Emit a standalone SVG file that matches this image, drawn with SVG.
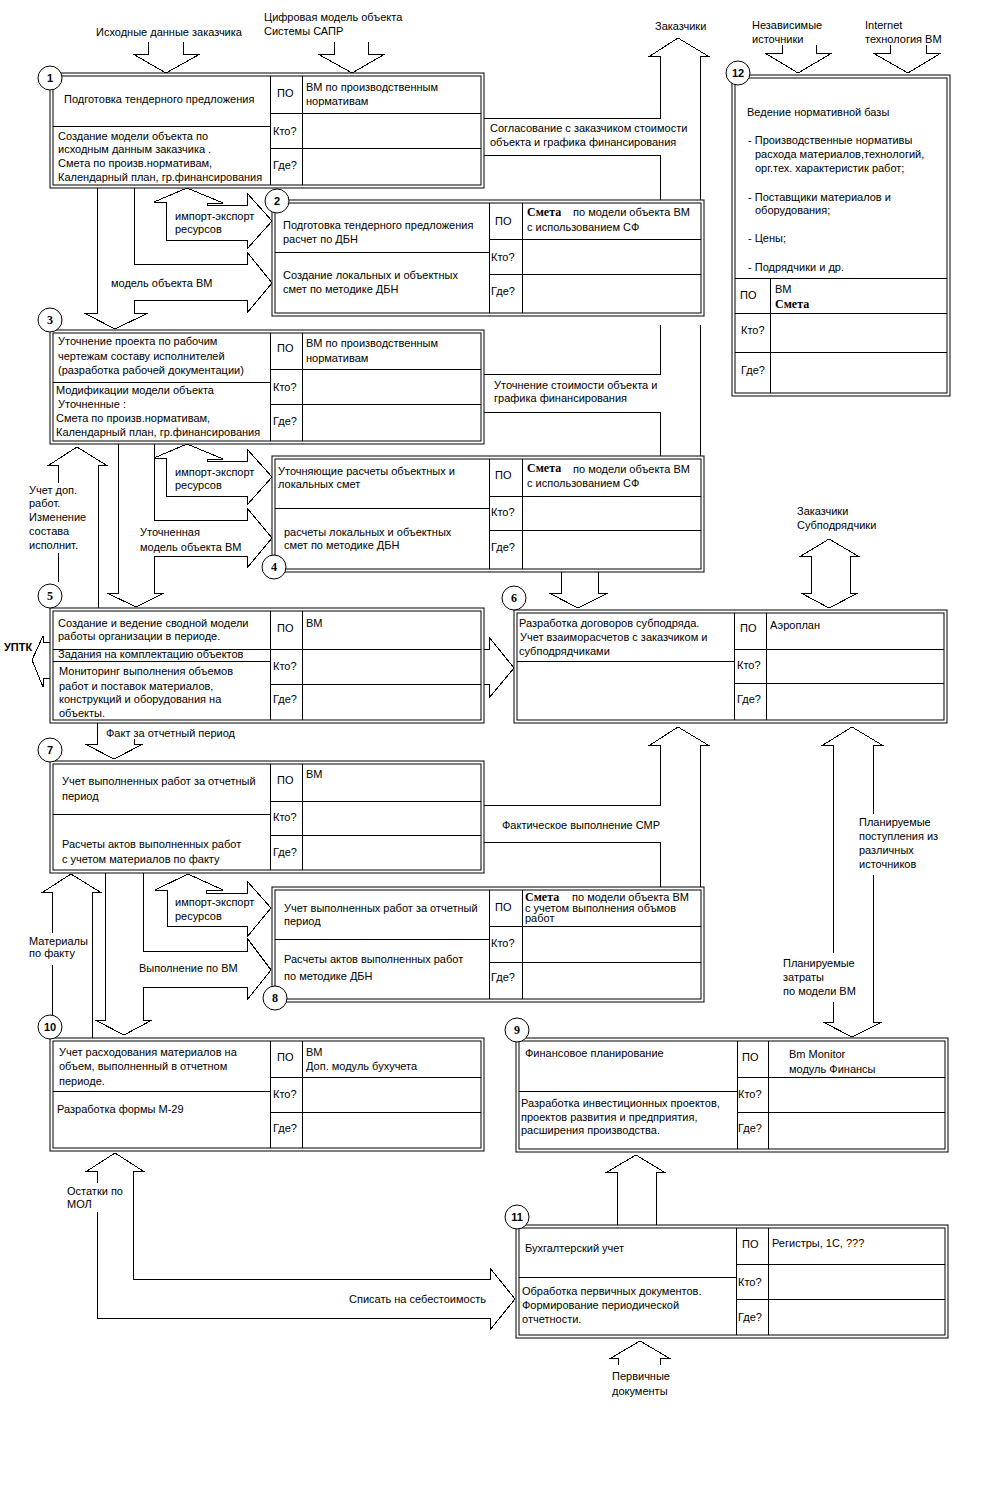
<svg xmlns="http://www.w3.org/2000/svg" width="1000" height="1500" viewBox="0 0 1000 1500">
<style>
.b{fill:none;stroke:#000;stroke-width:1}
.o{fill:#fff;stroke:#000;stroke-width:1}
.c{fill:#fff;stroke:#000;stroke-width:1}
text{font-family:"Liberation Sans",Arial,sans-serif;font-size:11px;fill:#000}
.s{font-family:"Liberation Serif","Times New Roman",serif;font-weight:bold;font-size:12px}
.n{font-weight:bold;font-size:11px;text-anchor:middle}
.nf{font-family:"Liberation Serif","Times New Roman",serif;font-weight:bold;font-size:12px;text-anchor:middle}
.u{font-weight:bold;font-size:11px}
</style>
<rect x="0" y="0" width="1000" height="1500" fill="#fff"/>
<g id="connectors" class="b" shape-rendering="crispEdges">
<path d="M148,42V54H133L166,73L200,54H183V42"/>
<path d="M334,42V54H318L352,73L385,54H368V42"/>
<path d="M484,118H660V56H650L678,38L708,56H700V200M484,155H660V200"/>
<path d="M660,325V374H484M484,412H660V456M700,325V456"/>
<path d="M166,240V202H154L187,188L223,203H207V205H247V193L272,221L247,249V240Z"/>
<path d="M134,188V264H247V252L272,283L247,313V300H134V313H148L115,329L84,313H97V188"/>
<path d="M166,496V458H154L187,444L223,459H207V461H247V449L272,477L247,505V496Z"/>
<path d="M154,444V520H247V508L272,538L247,568V556H154V593H164L136,607L107,593H118V444"/>
<path d="M58,483V465H49L77,447L106,465H98V608M58,553V582"/>
<path d="M561,572V593H549L578,608L608,593H598V572"/>
<path d="M811,593V556H801L829,539L858,556H850V593H858L829,608L801,593Z"/>
<path d="M50,642H43V636L32,660L43,687V678H50"/>
<path d="M484,649H489V637L514,668L489,698V684H484"/>
<path d="M97,723V744H85L114,759L143,744H134V739"/>
<path d="M484,805H660V745H650L678,727L708,745H700V887M484,842H660V887"/>
<path d="M833,953V745H823L852,727L882,745H873V814M873,875V1022H882L852,1037L823,1022H833V1002"/>
<path d="M167,926V890H155L188,874L223,890H206V893H247V881L271,908L247,937V926Z"/>
<path d="M143,873V951H247V938L271,970L247,1000V987H143V1020H152L124,1035L95,1020H105V873"/>
<path d="M52,933V892H43L71,874L100,892H92V1038M52,965V1015"/>
<path d="M133,1171V1279H490V1268L515,1299L490,1330V1318H97V1212M97,1183V1171H87L115,1153L143,1171H133"/>
<path d="M617,1225V1172H607L636,1155L664,1172H656V1225"/>
<path d="M618,1365V1358H611L640,1341L669,1358H660V1365"/>
<path d="M782,45V53H765L798,73L832,53H816V45"/>
<path d="M890,45V53H873L908,73L941,53H926V45"/>
</g>
<g id="labels">
<text x="96" y="36">Исходные данные заказчика</text>
<text x="264" y="21">Цифровая модель объекта</text>
<text x="264" y="35">Системы САПР</text>
<text x="655" y="30">Заказчики</text>
<text x="752" y="29">Независимые</text>
<text x="752" y="43">источники</text>
<text x="865" y="29">Internet</text>
<text x="865" y="43">технология ВМ</text>
<text x="490" y="132">Согласование с заказчиком стоимости</text>
<text x="490" y="146">объекта и графика финансирования</text>
<text x="175" y="220">импорт-экспорт</text>
<text x="175" y="233">ресурсов</text>
<text x="111" y="287">модель объекта ВМ</text>
<text x="494" y="389">Уточнение стоимости объекта и</text>
<text x="494" y="402">графика финансирования</text>
<text x="175" y="476">импорт-экспорт</text>
<text x="175" y="489">ресурсов</text>
<text x="140" y="536">Уточненная</text>
<text x="140" y="551">модель объекта ВМ</text>
<text x="29" y="494">Учет доп.</text>
<text x="29" y="507">работ.</text>
<text x="29" y="521">Изменение</text>
<text x="29" y="535">состава</text>
<text x="29" y="549">исполнит.</text>
<text x="797" y="515">Заказчики</text>
<text x="797" y="529">Субподрядчики</text>
<text class="u" x="4" y="651">УПТК</text>
<text x="106" y="737">Факт за отчетный период</text>
<text x="502" y="829">Фактическое выполнение СМР</text>
<text x="175" y="906">импорт-экспорт</text>
<text x="175" y="920">ресурсов</text>
<text x="139" y="972">Выполнение по ВМ</text>
<text x="29" y="945">Материалы</text>
<text x="29" y="957">по факту</text>
<text x="859" y="826">Планируемые</text>
<text x="859" y="840">поступления из</text>
<text x="859" y="854">различных</text>
<text x="859" y="868">источников</text>
<text x="783" y="967">Планируемые</text>
<text x="783" y="981">затраты</text>
<text x="783" y="995">по модели ВМ</text>
<text x="67" y="1195">Остатки по</text>
<text x="67" y="1208">МОЛ</text>
<text x="349" y="1303">Списать на себестоимость</text>
<text x="612" y="1380">Первичные</text>
<text x="612" y="1395">документы</text>
</g>
<g id="node1">
<rect class="o" x="50" y="73" width="434" height="115"/>
<rect class="b" x="53" y="76" width="428" height="109"/>
<path class="b" shape-rendering="crispEdges" d="M270,76V185M302,76V185M53,126H270M270,113H481M270,148H481"/>
<circle class="c" cx="50" cy="78" r="12"/>
<text class="n" x="50" y="82">1</text>
<text x="64" y="103">Подготовка тендерного предложения</text>
<text x="277" y="97">ПО</text>
<text x="306" y="91">ВМ по производственным</text>
<text x="306" y="105">нормативам</text>
<text x="58" y="140">Создание модели объекта по</text>
<text x="58" y="153">исходным данным заказчика .</text>
<text x="58" y="167">Смета по произв.нормативам,</text>
<text x="58" y="181">Календарный план, гр.финансирования</text>
<text x="273" y="135">Кто?</text>
<text x="273" y="169">Где?</text>
</g>
<g id="node2">
<rect class="o" x="272" y="200" width="432" height="116"/>
<rect class="b" x="275" y="203" width="426" height="110"/>
<path class="b" shape-rendering="crispEdges" d="M489,203V313M522,203V313M275,252H489M489,239H701M489,274H701"/>
<circle class="c" cx="277" cy="201" r="12"/>
<text class="n" x="277" y="205">2</text>
<text x="283" y="229">Подготовка тендерного предложения</text>
<text x="283" y="243">расчет по ДБН</text>
<text x="283" y="279">Создание локальных и объектных</text>
<text x="283" y="293">смет по методике ДБН</text>
<text x="495" y="225">ПО</text>
<text class="s" x="527" y="216">Смета</text>
<text x="573" y="216">по модели объекта ВМ</text>
<text x="527" y="231">с использованием СФ</text>
<text x="491" y="261">Кто?</text>
<text x="491" y="295">Где?</text>
</g>
<g id="node3">
<rect class="o" x="50" y="330" width="434" height="114"/>
<rect class="b" x="53" y="333" width="428" height="108"/>
<path class="b" shape-rendering="crispEdges" d="M270,333V441M302,333V441M53,382H270M270,369H481M270,404H481"/>
<circle class="c" cx="50" cy="320" r="12"/>
<text class="nf" x="50" y="324">3</text>
<text x="58" y="345">Уточнение проекта по рабочим</text>
<text x="58" y="360">чертежам составу исполнителей</text>
<text x="58" y="374">(разработка рабочей документации)</text>
<text x="56" y="394">Модификации модели объекта</text>
<text x="58" y="408">Уточненные :</text>
<text x="56" y="422">Смета по произв.нормативам,</text>
<text x="56" y="436">Календарный план, гр.финансирования</text>
<text x="277" y="352">ПО</text>
<text x="306" y="347">ВМ по производственным</text>
<text x="306" y="362">нормативам</text>
<text x="273" y="391">Кто?</text>
<text x="273" y="425">Где?</text>
</g>
<g id="node4">
<rect class="o" x="272" y="456" width="432" height="116"/>
<rect class="b" x="275" y="459" width="426" height="110"/>
<path class="b" shape-rendering="crispEdges" d="M489,459V569M522,459V569M275,508H489M489,496H701M489,530H701"/>
<circle class="c" cx="274" cy="567" r="12"/>
<text class="nf" x="274" y="571">4</text>
<text x="278" y="475">Уточняющие расчеты объектных и</text>
<text x="278" y="488">локальных смет</text>
<text x="284" y="536">расчеты  локальных и объектных</text>
<text x="284" y="549">смет по методике ДБН</text>
<text x="495" y="479">ПО</text>
<text class="s" x="527" y="472">Смета</text>
<text x="573" y="473">по модели объекта ВМ</text>
<text x="527" y="487">с использованием СФ</text>
<text x="491" y="516">Кто?</text>
<text x="491" y="551">Где?</text>
</g>
<g id="node5">
<rect class="o" x="50" y="608" width="434" height="115"/>
<rect class="b" x="53" y="611" width="428" height="109"/>
<path class="b" shape-rendering="crispEdges" d="M270,611V720M302,611V720M53,649H270M53,661H270M270,649H481M270,684H481"/>
<circle class="c" cx="50" cy="596" r="12"/>
<text class="nf" x="50" y="600">5</text>
<text x="58" y="627">Создание и ведение сводной модели</text>
<text x="58" y="640">работы организации в периоде.</text>
<text x="58" y="658">Задания на комплектацию объектов</text>
<text x="59" y="675">Мониторинг выполнения объемов</text>
<text x="59" y="690">работ и поставок материалов,</text>
<text x="59" y="703">конструкций и оборудования на</text>
<text x="59" y="717">объекты.</text>
<text x="277" y="632">ПО</text>
<text x="306" y="627">ВМ</text>
<text x="273" y="670">Кто?</text>
<text x="273" y="703">Где?</text>
</g>
<g id="node6">
<rect class="o" x="514" y="610" width="433" height="113"/>
<rect class="b" x="517" y="613" width="427" height="107"/>
<path class="b" shape-rendering="crispEdges" d="M734,613V720M766,613V720M517,661H734M734,649H944M734,683H944"/>
<circle class="c" cx="514" cy="598" r="12"/>
<text class="nf" x="514" y="602">6</text>
<text x="519" y="627">Разработка договоров субподряда.</text>
<text x="520" y="641">Учет взаиморасчетов с заказчиком и</text>
<text x="519" y="655">субподрядчиками</text>
<text x="740" y="632">ПО</text>
<text x="770" y="629">Аэроплан</text>
<text x="737" y="669">Кто?</text>
<text x="737" y="703">Где?</text>
</g>
<g id="node7">
<rect class="o" x="50" y="761" width="434" height="112"/>
<rect class="b" x="53" y="764" width="428" height="106"/>
<path class="b" shape-rendering="crispEdges" d="M270,764V870M302,764V870M53,814H270M270,801H481M270,835H481"/>
<circle class="c" cx="50" cy="750" r="12"/>
<text class="n" x="50" y="754">7</text>
<text x="62" y="785">Учет выполненных работ за отчетный</text>
<text x="62" y="800">период</text>
<text x="62" y="848">Расчеты актов  выполненных работ</text>
<text x="62" y="863">с учетом материалов по факту</text>
<text x="277" y="784">ПО</text>
<text x="306" y="778">ВМ</text>
<text x="273" y="821">Кто?</text>
<text x="273" y="856">Где?</text>
</g>
<g id="node8">
<rect class="o" x="272" y="887" width="432" height="115"/>
<rect class="b" x="275" y="890" width="426" height="109"/>
<path class="b" shape-rendering="crispEdges" d="M489,890V999M522,890V999M275,939H489M489,926H701M489,962H701"/>
<circle class="c" cx="275" cy="998" r="12"/>
<text class="nf" x="275" y="1002">8</text>
<text x="284" y="912">Учет выполненных работ за отчетный</text>
<text x="284" y="925">период</text>
<text x="284" y="963">Расчеты актов  выполненных работ</text>
<text x="284" y="980">по методике ДБН</text>
<text x="495" y="911">ПО</text>
<text class="s" x="525" y="901">Смета</text>
<text x="572" y="901">по модели объекта ВМ</text>
<text x="525" y="912">с учетом выполнения объмов</text>
<text x="525" y="922">работ</text>
<text x="491" y="947">Кто?</text>
<text x="491" y="981">Где?</text>
</g>
<g id="node9">
<rect class="o" x="516" y="1038" width="432" height="114"/>
<rect class="b" x="519" y="1041" width="426" height="108"/>
<path class="b" shape-rendering="crispEdges" d="M737,1041V1149M768,1041V1149M519,1091H737M737,1077H945M737,1112H945"/>
<circle class="c" cx="517" cy="1030" r="12"/>
<text class="nf" x="517" y="1034">9</text>
<text x="525" y="1057">Финансовое планирование</text>
<text x="521" y="1107">Разработка инвестиционных проектов,</text>
<text x="521" y="1121">проектов развития и предприятия,</text>
<text x="521" y="1134">расширения производства.</text>
<text x="742" y="1061">ПО</text>
<text x="789" y="1058">Bm Monitor</text>
<text x="789" y="1073">модуль Финансы</text>
<text x="738" y="1098">Кто?</text>
<text x="738" y="1132">Где?</text>
</g>
<g id="node10">
<rect class="o" x="50" y="1038" width="434" height="113"/>
<rect class="b" x="53" y="1041" width="428" height="107"/>
<path class="b" shape-rendering="crispEdges" d="M270,1041V1148M302,1041V1148M53,1091H270M270,1077H481M270,1112H481"/>
<circle class="c" cx="50" cy="1027" r="12"/>
<text class="n" x="50" y="1031">10</text>
<text x="59" y="1056">Учет расходования материалов на</text>
<text x="59" y="1070">объем, выполненный в отчетном</text>
<text x="59" y="1085">периоде.</text>
<text x="57" y="1113">Разработка формы М-29</text>
<text x="277" y="1061">ПО</text>
<text x="306" y="1056">ВМ</text>
<text x="306" y="1070">Доп. модуль бухучета</text>
<text x="273" y="1098">Кто?</text>
<text x="273" y="1132">Где?</text>
</g>
<g id="node11">
<rect class="o" x="516" y="1225" width="432" height="113"/>
<rect class="b" x="519" y="1228" width="426" height="107"/>
<path class="b" shape-rendering="crispEdges" d="M736,1228V1335M768,1228V1335M519,1277H736M736,1264H945M736,1299H945"/>
<circle class="c" cx="517" cy="1217" r="12"/>
<text class="n" x="517" y="1221">11</text>
<text x="525" y="1252">Бухгалтерский учет</text>
<text x="522" y="1295">Обработка первичных документов.</text>
<text x="522" y="1309">Формирование периодической</text>
<text x="522" y="1323">отчетности.</text>
<text x="742" y="1248">ПО</text>
<text x="772" y="1247">Регистры, 1С, ???</text>
<text x="738" y="1286">Кто?</text>
<text x="738" y="1321">Где?</text>
</g>
<g id="node12">
<rect class="o" x="732" y="75" width="218" height="321"/>
<rect class="b" x="735" y="78" width="212" height="315"/>
<path class="b" shape-rendering="crispEdges" d="M735,278H947M770,278V393M735,313H947M735,352H947"/>
<circle class="c" cx="738" cy="73" r="12"/>
<text class="n" x="738" y="77">12</text>
<text x="747" y="116">Ведение нормативной базы</text>
<text x="748" y="144">- Производственные нормативы</text>
<text x="755" y="158">расхода материалов,технологий,</text>
<text x="755" y="172">орг.тех. характеристик работ;</text>
<text x="748" y="201">- Поставщики материалов и</text>
<text x="755" y="214">оборудования;</text>
<text x="748" y="242">- Цены;</text>
<text x="748" y="271">- Подрядчики и др.</text>
<text x="740" y="299">ПО</text>
<text x="775" y="293">ВМ</text>
<text class="s" x="775" y="308">Смета</text>
<text x="741" y="334">Кто?</text>
<text x="741" y="374">Где?</text>
</g>
</svg>
